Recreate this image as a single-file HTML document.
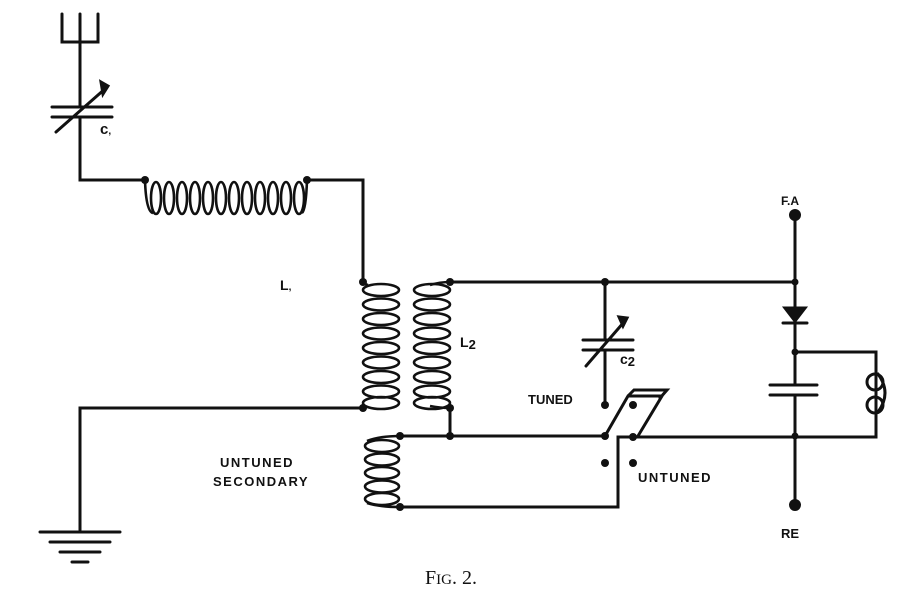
<!DOCTYPE html>
<html><head><meta charset="utf-8"><style>body{margin:0;background:#fff}svg{display:block}</style></head><body>
<svg width="906" height="602" viewBox="0 0 906 602" xmlns="http://www.w3.org/2000/svg">
<g stroke="#111" stroke-width="3" fill="none" stroke-linecap="round">
<path d="M62 14V42H98V14M80 14V107M80 117V180H145"/>
<path d="M52 107H112M52 117H112M56 132L106 88"/>
<path d="M101 82L108 86L103 94Z" fill="#111"/>
<path d="M307 180H363V282"/>
<path d="M363 408H80V530"/>
<path d="M40 532H120M50 542H110M60 552H100M72 562H88"/>
<path d="M450 282H795M605 282V340M605 350V405M450 408V436H605M400 436H450"/>
<path d="M583 340H633M583 350H633M586 366L624 322"/>
<path d="M619 317L627 318L623 326Z" fill="#111"/>
<path d="M400 507H618V437H876V352H795"/>
<path d="M605 436L628 396H662L638 436M628 396L634 390H667L660 398"/>
<path d="M795 215V310M795 323V385M795 395V505M770 385H817M770 395H817M783 323H807"/>
<path d="M785 308H805L795 321Z" fill="#111"/>
<circle cx="875" cy="382" r="8"/><circle cx="875" cy="405" r="8"/>
<path d="M878 374Q892 393 878 412"/>
<path d="M876 374V352M876 413V437"/>
</g>
<g stroke="#111" stroke-width="2.6" fill="none">
<ellipse cx="156" cy="198" rx="5" ry="16"/><ellipse cx="169" cy="198" rx="5" ry="16"/><ellipse cx="182" cy="198" rx="5" ry="16"/><ellipse cx="195" cy="198" rx="5" ry="16"/><ellipse cx="208" cy="198" rx="5" ry="16"/><ellipse cx="221" cy="198" rx="5" ry="16"/><ellipse cx="234" cy="198" rx="5" ry="16"/><ellipse cx="247" cy="198" rx="5" ry="16"/><ellipse cx="260" cy="198" rx="5" ry="16"/><ellipse cx="273" cy="198" rx="5" ry="16"/><ellipse cx="286" cy="198" rx="5" ry="16"/><ellipse cx="299" cy="198" rx="5" ry="16"/>
<path d="M145 180 Q146 212 153 213 M302 213 Q306 210 307 180"/>
<ellipse cx="381" cy="290" rx="18" ry="6"/><ellipse cx="381" cy="304.5" rx="18" ry="6"/><ellipse cx="381" cy="319" rx="18" ry="6"/><ellipse cx="381" cy="333.5" rx="18" ry="6"/><ellipse cx="381" cy="348" rx="18" ry="6"/><ellipse cx="381" cy="362.5" rx="18" ry="6"/><ellipse cx="381" cy="377" rx="18" ry="6"/><ellipse cx="381" cy="391.5" rx="18" ry="6"/><ellipse cx="381" cy="403" rx="18" ry="6"/>
<ellipse cx="432" cy="290" rx="18" ry="6"/><ellipse cx="432" cy="304.5" rx="18" ry="6"/><ellipse cx="432" cy="319" rx="18" ry="6"/><ellipse cx="432" cy="333.5" rx="18" ry="6"/><ellipse cx="432" cy="348" rx="18" ry="6"/><ellipse cx="432" cy="362.5" rx="18" ry="6"/><ellipse cx="432" cy="377" rx="18" ry="6"/><ellipse cx="432" cy="391.5" rx="18" ry="6"/><ellipse cx="432" cy="403" rx="18" ry="6"/>
<path d="M363 282 Q364 284 368 285 M450 282 Q440 282 430 285 M450 408 Q440 408 430 406"/>
<ellipse cx="382" cy="446" rx="17" ry="6"/><ellipse cx="382" cy="459.5" rx="17" ry="6"/><ellipse cx="382" cy="473" rx="17" ry="6"/><ellipse cx="382" cy="486.5" rx="17" ry="6"/><ellipse cx="382" cy="499" rx="17" ry="6"/>
<path d="M400 436 Q380 436 367 441 M400 507 Q380 507 367 503"/>
</g>
<g fill="#111">
<circle cx="145" cy="180" r="4"/><circle cx="307" cy="180" r="4"/>
<circle cx="363" cy="282" r="4"/><circle cx="363" cy="408" r="4"/>
<circle cx="450" cy="282" r="4"/><circle cx="450" cy="408" r="4"/>
<circle cx="605" cy="282" r="4"/><circle cx="605" cy="405" r="4"/>
<circle cx="400" cy="436" r="4"/><circle cx="450" cy="436" r="4"/><circle cx="400" cy="507" r="4"/>
<circle cx="605" cy="436" r="4"/><circle cx="633" cy="405" r="4"/><circle cx="633" cy="437" r="4"/>
<circle cx="605" cy="463" r="4"/><circle cx="633" cy="463" r="4"/>
<circle cx="795" cy="215" r="6"/><circle cx="795" cy="505" r="6"/>
<circle cx="795" cy="282" r="3.5"/><circle cx="795" cy="352" r="3.5"/><circle cx="795" cy="436" r="3.5"/>
</g>
<g font-family="Liberation Sans, sans-serif" font-weight="bold" fill="#111">
<text x="100" y="134" font-size="15">c<tspan font-size="10">,</tspan></text>
<text x="280" y="290" font-size="14">L<tspan font-size="10">,</tspan></text>
<text x="460" y="347" font-size="14">L<tspan font-size="13" dy="2">2</tspan></text>
<text x="620" y="364" font-size="14">c<tspan font-size="13" dy="2">2</tspan></text>
<text x="528" y="404" font-size="13">TUNED</text>
<text x="220" y="467" font-size="13" letter-spacing="1.5">UNTUNED</text>
<text x="213" y="486" font-size="13" letter-spacing="1.5">SECONDARY</text>
<text x="638" y="482" font-size="13" letter-spacing="1.5">UNTUNED</text>
<text x="781" y="205" font-size="12">F.A</text>
<text x="781" y="538" font-size="13">RE</text>
</g>
<text x="425" y="584" font-family="Liberation Serif, serif" font-size="20" fill="#111">F<tspan font-size="15">IG</tspan>. 2.</text>
</svg>
</body></html>
